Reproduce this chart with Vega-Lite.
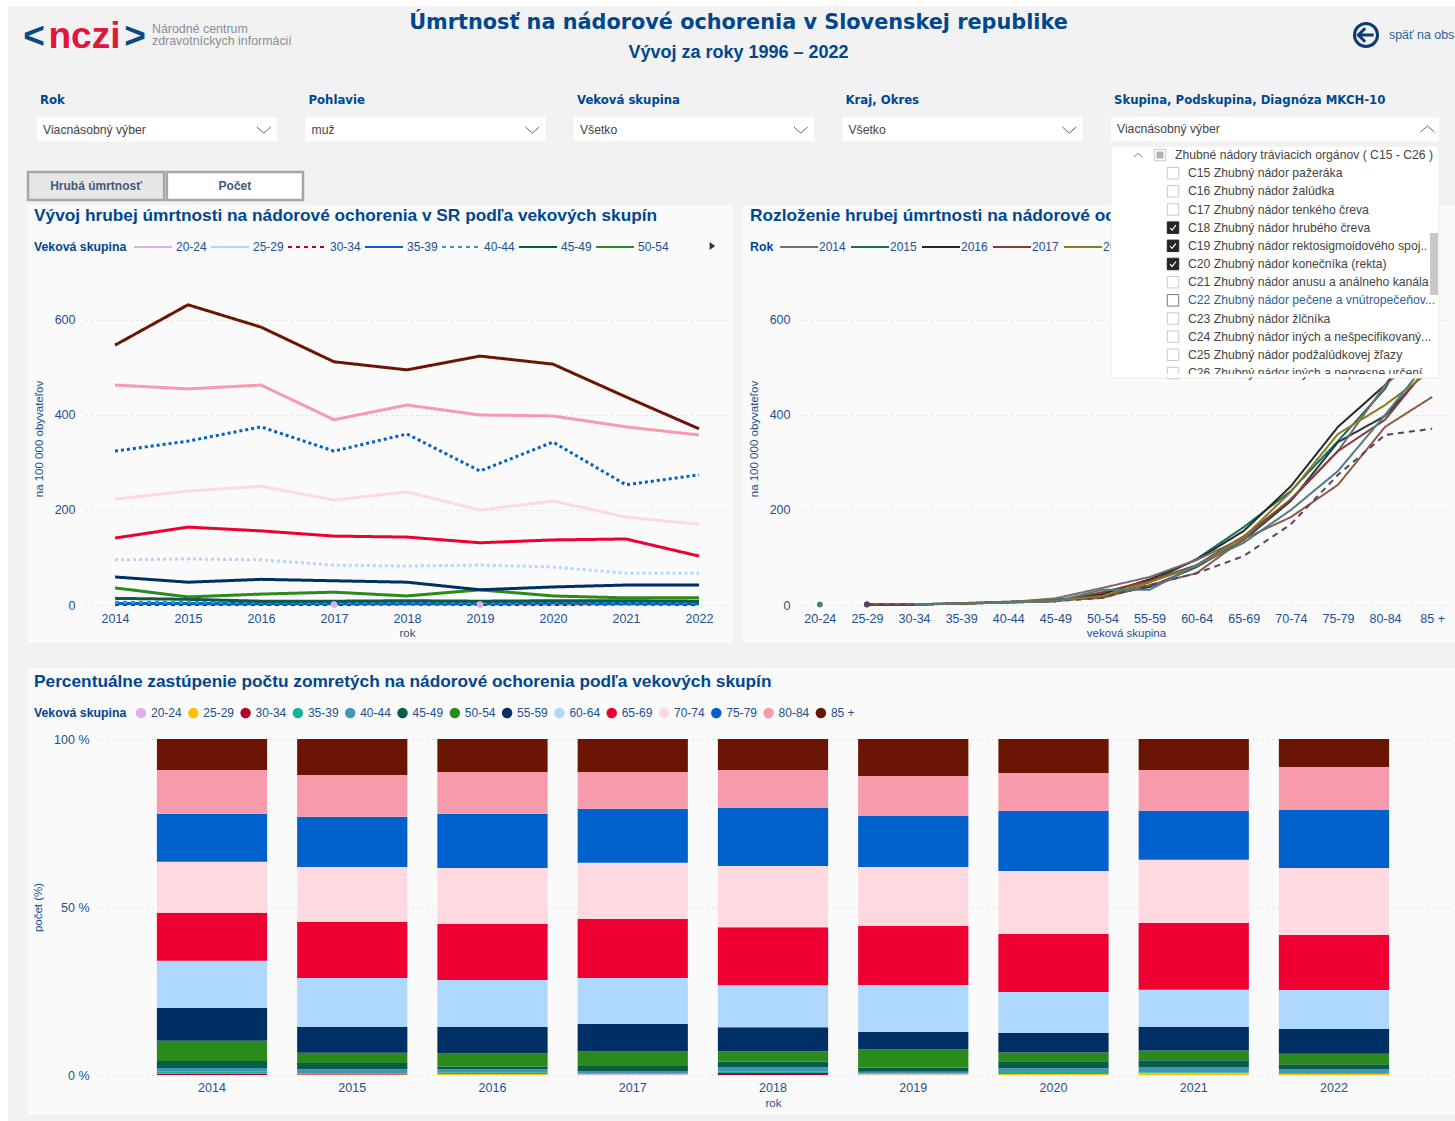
{"$schema":"https://vega.github.io/schema/vega-lite/v6.json","padding":0,"background":"#f2f2f2","bounds":"flush","spacing":0,
"resolve":{"scale":{"color":"independent","fill":"independent","stroke":"independent","strokeDash":"independent"},"legend":{"color":"independent","strokeDash":"independent"}},
"config":{"font":"Liberation Sans","view":{"stroke":null},"axis":{"domain":false,"ticks":false,"labelPadding":0,"labelFontSize":12.5,"labelColor":"#1d4f91","titleFontSize":11.5,"titleColor":"#1d4f91","titleFontWeight":"normal","gridColor":"#c8c8c8","gridDash":[1,4],"labelAngle":0},"legend":{"titleFontSize":12.3,"titleColor":"#00478f","titleFontWeight":"bold","labelFontSize":12,"labelColor":"#1d4f91"},"title":{"color":"#00478f"}},
"datasets":{
"rates":[
{"rok":"2017","vek":"20-24","v":0.9},{"rok":"2019","vek":"20-24","v":0.9},
{"rok":"2015","vek":"25-29","v":0.9},{"rok":"2016","vek":"25-29","v":0.9},{"rok":"2020","vek":"25-29","v":0.9},{"rok":"2021","vek":"25-29","v":2},{"rok":"2022","vek":"25-29","v":0.9},
{"rok":"2014","vek":"30-34","v":1},{"rok":"2015","vek":"30-34","v":1},{"rok":"2016","vek":"30-34","v":1},{"rok":"2017","vek":"30-34","v":1},{"rok":"2018","vek":"30-34","v":2},{"rok":"2019","vek":"30-34","v":1},{"rok":"2020","vek":"30-34","v":1},{"rok":"2021","vek":"30-34","v":2},{"rok":"2022","vek":"30-34","v":1},
{"rok":"2014","vek":"35-39","v":3},{"rok":"2015","vek":"35-39","v":3},{"rok":"2016","vek":"35-39","v":3},{"rok":"2017","vek":"35-39","v":3},{"rok":"2018","vek":"35-39","v":3},{"rok":"2019","vek":"35-39","v":3},{"rok":"2020","vek":"35-39","v":4},{"rok":"2021","vek":"35-39","v":3},{"rok":"2022","vek":"35-39","v":3},
{"rok":"2014","vek":"40-44","v":6},{"rok":"2015","vek":"40-44","v":6},{"rok":"2016","vek":"40-44","v":6},{"rok":"2017","vek":"40-44","v":5},{"rok":"2018","vek":"40-44","v":6},{"rok":"2019","vek":"40-44","v":5},{"rok":"2020","vek":"40-44","v":7},{"rok":"2021","vek":"40-44","v":6},{"rok":"2022","vek":"40-44","v":6},
{"rok":"2014","vek":"45-49","v":14},{"rok":"2015","vek":"45-49","v":12},{"rok":"2016","vek":"45-49","v":8},{"rok":"2017","vek":"45-49","v":8},{"rok":"2018","vek":"45-49","v":9},{"rok":"2019","vek":"45-49","v":8},{"rok":"2020","vek":"45-49","v":9},{"rok":"2021","vek":"45-49","v":9},{"rok":"2022","vek":"45-49","v":8},
{"rok":"2014","vek":"50-54","v":36},{"rok":"2015","vek":"50-54","v":17},{"rok":"2016","vek":"50-54","v":23},{"rok":"2017","vek":"50-54","v":27},{"rok":"2018","vek":"50-54","v":19},{"rok":"2019","vek":"50-54","v":32},{"rok":"2020","vek":"50-54","v":19},{"rok":"2021","vek":"50-54","v":15},{"rok":"2022","vek":"50-54","v":15},
{"rok":"2014","vek":"55-59","v":59},{"rok":"2015","vek":"55-59","v":48},{"rok":"2016","vek":"55-59","v":54},{"rok":"2017","vek":"55-59","v":51},{"rok":"2018","vek":"55-59","v":48},{"rok":"2019","vek":"55-59","v":32},{"rok":"2020","vek":"55-59","v":38},{"rok":"2021","vek":"55-59","v":42},{"rok":"2022","vek":"55-59","v":42},
{"rok":"2014","vek":"60-64","v":95},{"rok":"2015","vek":"60-64","v":97},{"rok":"2016","vek":"60-64","v":95},{"rok":"2017","vek":"60-64","v":84},{"rok":"2018","vek":"60-64","v":82},{"rok":"2019","vek":"60-64","v":84},{"rok":"2020","vek":"60-64","v":80},{"rok":"2021","vek":"60-64","v":67},{"rok":"2022","vek":"60-64","v":67},
{"rok":"2014","vek":"65-69","v":141},{"rok":"2015","vek":"65-69","v":164},{"rok":"2016","vek":"65-69","v":156},{"rok":"2017","vek":"65-69","v":145},{"rok":"2018","vek":"65-69","v":143},{"rok":"2019","vek":"65-69","v":131},{"rok":"2020","vek":"65-69","v":137},{"rok":"2021","vek":"65-69","v":139},{"rok":"2022","vek":"65-69","v":103},
{"rok":"2014","vek":"70-74","v":223},{"rok":"2015","vek":"70-74","v":240},{"rok":"2016","vek":"70-74","v":250},{"rok":"2017","vek":"70-74","v":221},{"rok":"2018","vek":"70-74","v":238},{"rok":"2019","vek":"70-74","v":200},{"rok":"2020","vek":"70-74","v":219},{"rok":"2021","vek":"70-74","v":185},{"rok":"2022","vek":"70-74","v":170},
{"rok":"2014","vek":"75-79","v":324},{"rok":"2015","vek":"75-79","v":345},{"rok":"2016","vek":"75-79","v":375},{"rok":"2017","vek":"75-79","v":324},{"rok":"2018","vek":"75-79","v":360},{"rok":"2019","vek":"75-79","v":282},{"rok":"2020","vek":"75-79","v":343},{"rok":"2021","vek":"75-79","v":253},{"rok":"2022","vek":"75-79","v":274},
{"rok":"2014","vek":"80-84","v":463},{"rok":"2015","vek":"80-84","v":455},{"rok":"2016","vek":"80-84","v":463},{"rok":"2017","vek":"80-84","v":390},{"rok":"2018","vek":"80-84","v":421},{"rok":"2019","vek":"80-84","v":400},{"rok":"2020","vek":"80-84","v":398},{"rok":"2021","vek":"80-84","v":375},{"rok":"2022","vek":"80-84","v":358},
{"rok":"2014","vek":"85 +","v":547},{"rok":"2015","vek":"85 +","v":632},{"rok":"2016","vek":"85 +","v":585},{"rok":"2017","vek":"85 +","v":512},{"rok":"2018","vek":"85 +","v":495},{"rok":"2019","vek":"85 +","v":524},{"rok":"2020","vek":"85 +","v":507},{"rok":"2021","vek":"85 +","v":438},{"rok":"2022","vek":"85 +","v":371}
],
"shares":[
{"rok":"2014","vek":"30-34","p":0.4},{"rok":"2014","vek":"35-39","p":0.7},{"rok":"2014","vek":"40-44","p":1.0},{"rok":"2014","vek":"45-49","p":2.1},{"rok":"2014","vek":"50-54","p":6.0},{"rok":"2014","vek":"55-59","p":9.8},{"rok":"2014","vek":"60-64","p":14.0},{"rok":"2014","vek":"65-69","p":14.3},{"rok":"2014","vek":"70-74","p":15.2},{"rok":"2014","vek":"75-79","p":14.3},{"rok":"2014","vek":"80-84","p":13.1},{"rok":"2014","vek":"85 +","p":9.2},
{"rok":"2015","vek":"25-29","p":0.15},{"rok":"2015","vek":"30-34","p":0.15},{"rok":"2015","vek":"35-39","p":0.2},{"rok":"2015","vek":"40-44","p":1.2},{"rok":"2015","vek":"45-49","p":1.9},{"rok":"2015","vek":"50-54","p":3.0},{"rok":"2015","vek":"55-59","p":7.7},{"rok":"2015","vek":"60-64","p":14.6},{"rok":"2015","vek":"65-69","p":16.7},{"rok":"2015","vek":"70-74","p":16.4},{"rok":"2015","vek":"75-79","p":14.9},{"rok":"2015","vek":"80-84","p":12.5},{"rok":"2015","vek":"85 +","p":10.7},
{"rok":"2016","vek":"25-29","p":0.3},{"rok":"2016","vek":"35-39","p":0.5},{"rok":"2016","vek":"40-44","p":0.9},{"rok":"2016","vek":"45-49","p":0.8},{"rok":"2016","vek":"50-54","p":3.9},{"rok":"2016","vek":"55-59","p":7.9},{"rok":"2016","vek":"60-64","p":14.0},{"rok":"2016","vek":"65-69","p":16.7},{"rok":"2016","vek":"70-74","p":16.7},{"rok":"2016","vek":"75-79","p":16.1},{"rok":"2016","vek":"80-84","p":12.5},{"rok":"2016","vek":"85 +","p":9.8},
{"rok":"2017","vek":"20-24","p":0.3},{"rok":"2017","vek":"35-39","p":0.2},{"rok":"2017","vek":"40-44","p":0.7},{"rok":"2017","vek":"45-49","p":1.5},{"rok":"2017","vek":"50-54","p":4.3},{"rok":"2017","vek":"55-59","p":8.2},{"rok":"2017","vek":"60-64","p":13.7},{"rok":"2017","vek":"65-69","p":17.6},{"rok":"2017","vek":"70-74","p":16.7},{"rok":"2017","vek":"75-79","p":16.1},{"rok":"2017","vek":"80-84","p":11.0},{"rok":"2017","vek":"85 +","p":9.8},
{"rok":"2018","vek":"30-34","p":0.6},{"rok":"2018","vek":"35-39","p":0.5},{"rok":"2018","vek":"40-44","p":1.3},{"rok":"2018","vek":"45-49","p":1.6},{"rok":"2018","vek":"50-54","p":3.1},{"rok":"2018","vek":"55-59","p":7.1},{"rok":"2018","vek":"60-64","p":12.5},{"rok":"2018","vek":"65-69","p":17.3},{"rok":"2018","vek":"70-74","p":18.2},{"rok":"2018","vek":"75-79","p":17.3},{"rok":"2018","vek":"80-84","p":11.3},{"rok":"2018","vek":"85 +","p":9.2},
{"rok":"2019","vek":"20-24","p":0.2},{"rok":"2019","vek":"25-29","p":0.2},{"rok":"2019","vek":"35-39","p":0.2},{"rok":"2019","vek":"40-44","p":0.4},{"rok":"2019","vek":"45-49","p":1.2},{"rok":"2019","vek":"50-54","p":5.5},{"rok":"2019","vek":"55-59","p":5.1},{"rok":"2019","vek":"60-64","p":14.0},{"rok":"2019","vek":"65-69","p":17.6},{"rok":"2019","vek":"70-74","p":17.6},{"rok":"2019","vek":"75-79","p":15.2},{"rok":"2019","vek":"80-84","p":11.9},{"rok":"2019","vek":"85 +","p":11.0},
{"rok":"2020","vek":"25-29","p":0.3},{"rok":"2020","vek":"35-39","p":0.9},{"rok":"2020","vek":"40-44","p":0.8},{"rok":"2020","vek":"45-49","p":2.1},{"rok":"2020","vek":"50-54","p":2.6},{"rok":"2020","vek":"55-59","p":5.8},{"rok":"2020","vek":"60-64","p":12.2},{"rok":"2020","vek":"65-69","p":17.3},{"rok":"2020","vek":"70-74","p":18.8},{"rok":"2020","vek":"75-79","p":17.9},{"rok":"2020","vek":"80-84","p":11.3},{"rok":"2020","vek":"85 +","p":10.1},
{"rok":"2021","vek":"25-29","p":0.7},{"rok":"2021","vek":"35-39","p":0.2},{"rok":"2021","vek":"40-44","p":1.3},{"rok":"2021","vek":"45-49","p":2.2},{"rok":"2021","vek":"50-54","p":2.9},{"rok":"2021","vek":"55-59","p":7.1},{"rok":"2021","vek":"60-64","p":11.0},{"rok":"2021","vek":"65-69","p":19.9},{"rok":"2021","vek":"70-74","p":18.8},{"rok":"2021","vek":"75-79","p":14.6},{"rok":"2021","vek":"80-84","p":12.2},{"rok":"2021","vek":"85 +","p":9.2},
{"rok":"2022","vek":"25-29","p":0.3},{"rok":"2022","vek":"35-39","p":0.1},{"rok":"2022","vek":"40-44","p":1.3},{"rok":"2022","vek":"45-49","p":1.5},{"rok":"2022","vek":"50-54","p":3.1},{"rok":"2022","vek":"55-59","p":7.4},{"rok":"2022","vek":"60-64","p":11.6},{"rok":"2022","vek":"65-69","p":16.4},{"rok":"2022","vek":"70-74","p":19.9},{"rok":"2022","vek":"75-79","p":17.3},{"rok":"2022","vek":"80-84","p":12.8},{"rok":"2022","vek":"85 +","p":8.3}
],
"filters":[{"filter":"Rok","value":"Viacnásobný výber"},{"filter":"Pohlavie","value":"muž"},{"filter":"Veková skupina","value":"Všetko"},{"filter":"Kraj, Okres","value":"Všetko"},{"filter":"Skupina, Podskupina, Diagnóza MKCH-10","value":"Viacnásobný výber"}],
"buttons":[{"b":"Hrubá úmrtnosť"},{"b":"Počet"}],
"one":[{"part":"block"}],
"titles":[{"panel":"left","text":"Vývoj hrubej úmrtnosti na nádorové ochorenia v SR podľa vekových skupín"},{"panel":"right","text":"Rozloženie hrubej úmrtnosti na nádorové ochorenia v SR podľa rokov"}],
"items":[
{"code":"G","level":"group","state":"partial","text":"Zhubné nádory tráviacich orgánov ( C15 - C26 )"},
{"code":"C15","level":"child","state":"off","text":"C15 Zhubný nádor pažeráka"},
{"code":"C16","level":"child","state":"off","text":"C16 Zhubný nádor žalúdka"},
{"code":"C17","level":"child","state":"off","text":"C17 Zhubný nádor tenkého čreva"},
{"code":"C18","level":"child","state":"on","text":"C18 Zhubný nádor hrubého čreva"},
{"code":"C19","level":"child","state":"on","text":"C19 Zhubný nádor rektosigmoidového spoj.."},
{"code":"C20","level":"child","state":"on","text":"C20 Zhubný nádor konečníka (rekta)"},
{"code":"C21","level":"child","state":"off","text":"C21 Zhubný nádor anusu a análneho kanála"},
{"code":"C22","level":"child","state":"hover","text":"C22 Zhubný nádor pečene a vnútropečeňov..."},
{"code":"C23","level":"child","state":"off","text":"C23 Zhubný nádor žlčníka"},
{"code":"C24","level":"child","state":"off","text":"C24 Zhubný nádor iných a nešpecifikovaný..."},
{"code":"C25","level":"child","state":"off","text":"C25 Zhubný nádor podžalúdkovej žľazy"},
{"code":"C26","level":"child","state":"off","text":"C26 Zhubný nádor iných a nepresne určení..."}
]
},
"vconcat":[
{"width":1455,"height":205,
"title":{"text":"Úmrtnosť na nádorové ochorenia v Slovenskej republike","subtitle":"Vývoj za roky 1996 – 2022","anchor":"middle","frame":"group","orient":"top","baseline":"top","dx":11,"offset":-63,"font":"DejaVu Sans","fontSize":20.8,"fontWeight":"bold","color":"#00478f","subtitleFont":"Liberation Sans","subtitleFontSize":18,"subtitleFontWeight":"bold","subtitleColor":"#00478f","subtitlePadding":10},
"resolve":{"scale":{"x":"independent","y":"independent","color":"independent","fill":"independent"}},
"layer":[
{"data":{"name":"one"},"mark":{"type":"rect","fill":"white"},"encoding":{"x":{"datum":"edge","type":"nominal","axis":null,"scale":{"type":"band","padding":0,"range":[0,8]}},"y":{"datum":"edge","type":"nominal","axis":null,"scale":{"type":"band","padding":0,"range":[0,205]}}}},
{"data":{"name":"one"},"mark":{"type":"rect","fill":"white"},"encoding":{"x":{"datum":"edge","type":"nominal","axis":null,"scale":{"type":"band","padding":0,"range":[0,1455]}},"y":{"datum":"edge","type":"nominal","axis":null,"scale":{"type":"band","padding":0,"range":[0,6]}}}},
{"data":{"values":[{"piece":"<"},{"piece":"nczi"},{"piece":">"}]},"mark":{"type":"text","fontSize":37,"fontWeight":"bold"},"encoding":{"x":{"field":"piece","type":"nominal","sort":null,"axis":null,"scale":{"type":"point","padding":0,"range":[34,135]}},"y":{"datum":"logo","type":"nominal","axis":null,"scale":{"type":"point","padding":0,"range":[37,37]}},"text":{"field":"piece"},"color":{"field":"piece","type":"nominal","legend":null,"scale":{"domain":["<","nczi",">"],"range":["#0c4a85","#e0173c","#0c4a85"]}}}},
{"data":{"values":[{"slot":"brand","row":"a","text":"Národné centrum"},{"slot":"brand","row":"c","text":"zdravotníckych informácií"},{"slot":"back","row":"b","text":"späť na obsah"}]},"mark":{"type":"text","align":"left","fontSize":12.4},"encoding":{"x":{"field":"slot","type":"nominal","axis":null,"scale":{"type":"point","padding":0,"domain":["brand","back"],"range":[152,1389]}},"y":{"field":"row","type":"nominal","axis":null,"scale":{"type":"point","padding":0,"domain":["a","b","c"],"range":[29,41]}},"text":{"field":"text"},"color":{"field":"slot","type":"nominal","legend":null,"scale":{"domain":["brand","back"],"range":["#8a8f94","#2a62a0"]}}}},
{"data":{"values":[{"icon":"ring"}]},"mark":{"type":"point","shape":"circle","size":531,"strokeWidth":3,"stroke":"#0c3c73","opacity":1},"encoding":{"x":{"datum":"back","type":"nominal","axis":null,"scale":{"type":"point","padding":0,"range":[1366,1366]}},"y":{"datum":"back","type":"nominal","axis":null,"scale":{"type":"point","padding":0,"range":[35,35]}}}},
{"data":{"values":[{"icon":"arrow"}]},"mark":{"type":"point","shape":"M-0.9,0L0.9,0M-0.1,-0.8L-0.9,0L-0.1,0.8","size":290,"strokeWidth":3,"stroke":"#0c3c73","opacity":1},"encoding":{"x":{"datum":"back","type":"nominal","axis":null,"scale":{"type":"point","padding":0,"range":[1366,1366]}},"y":{"datum":"back","type":"nominal","axis":null,"scale":{"type":"point","padding":0,"range":[35,35]}}}},
{"data":{"name":"filters"},"mark":{"type":"rect","fill":"white"},"encoding":{"x":{"field":"filter","type":"nominal","sort":null,"axis":null,"scale":{"type":"band","paddingInner":0.106,"paddingOuter":0,"range":[37,1351]}},"y":{"datum":"box","type":"nominal","axis":null,"scale":{"type":"band","padding":0,"range":[117,141]}}}},
{"data":{"name":"filters"},"mark":{"type":"text","align":"left","font":"DejaVu Sans","fontSize":11.7,"fontWeight":"bold","color":"#00478f","dx":3},"encoding":{"x":{"field":"filter","type":"nominal","sort":null,"bandPosition":0,"axis":null,"scale":{"type":"band","paddingInner":0.106,"paddingOuter":0,"range":[37,1351]}},"y":{"datum":"label","type":"nominal","axis":null,"scale":{"type":"point","padding":0,"range":[100,100]}},"text":{"field":"filter"}}},
{"data":{"name":"filters"},"mark":{"type":"text","align":"left","fontSize":12.2,"color":"#444444","dx":6},"encoding":{"x":{"field":"filter","type":"nominal","sort":null,"bandPosition":0,"axis":null,"scale":{"type":"band","paddingInner":0.106,"paddingOuter":0,"range":[37,1351]}},"y":{"datum":"value","type":"nominal","axis":null,"scale":{"type":"point","padding":0,"range":[130,130]}},"text":{"field":"value"}}},
{"data":{"name":"filters"},"mark":{"type":"point","shape":"M-1,-0.45L0,0.45L1,-0.45","size":196,"stroke":"#666666","strokeWidth":1,"opacity":1},"encoding":{"x":{"field":"filter","type":"nominal","sort":null,"bandPosition":0.945,"axis":null,"scale":{"type":"band","paddingInner":0.106,"paddingOuter":0,"range":[37,1351]}},"y":{"datum":"value","type":"nominal","axis":null,"scale":{"type":"point","padding":0,"range":[130,130]}}}},
{"data":{"name":"buttons"},"mark":{"type":"rect","stroke":"#a6a6a6","strokeWidth":2.5},"encoding":{"x":{"field":"b","type":"nominal","sort":null,"axis":null,"scale":{"type":"band","paddingInner":0.02,"paddingOuter":0,"range":[28,303]}},"y":{"datum":"btn","type":"nominal","axis":null,"scale":{"type":"band","padding":0,"range":[172,200]}},"fill":{"field":"b","type":"nominal","legend":null,"scale":{"domain":["Hrubá úmrtnosť","Počet"],"range":["#e6e6e6","#ffffff"]}}}},
{"data":{"name":"buttons"},"mark":{"type":"text","fontSize":12,"fontWeight":"bold","color":"#3d5a7a"},"encoding":{"x":{"field":"b","type":"nominal","sort":null,"axis":null,"scale":{"type":"band","paddingInner":0.02,"paddingOuter":0,"range":[28,303]}},"y":{"datum":"btn","type":"nominal","axis":null,"scale":{"type":"band","padding":0,"range":[172,200]}},"text":{"field":"b"}}}
]},
{"width":1455,"height":438,"view":{"fill":"#fafafa"},
"resolve":{"scale":{"x":"independent","y":"independent","color":"independent","strokeDash":"independent"},"axis":{"x":"independent","y":"independent"},"legend":{"color":"independent","strokeDash":"independent"}},
"layer":[
{"data":{"name":"one"},"mark":{"type":"rect","fill":"white"},"encoding":{"x":{"datum":"edge","type":"nominal","axis":null,"scale":{"type":"band","padding":0,"range":[0,8]}},"y":{"datum":"edge","type":"nominal","axis":null,"scale":{"type":"band","padding":0,"range":[0,438]}}}},
{"data":{"name":"one"},"mark":{"type":"rect","fill":"#f2f2f2"},"encoding":{"x":{"datum":"gap","type":"nominal","axis":null,"scale":{"type":"band","padding":0,"range":[8,28]}},"y":{"datum":"gap","type":"nominal","axis":null,"scale":{"type":"band","padding":0,"range":[0,438]}}}},
{"data":{"name":"one"},"mark":{"type":"rect","fill":"#f2f2f2"},"encoding":{"x":{"datum":"gap","type":"nominal","axis":null,"scale":{"type":"band","padding":0,"range":[733,743]}},"y":{"datum":"gap","type":"nominal","axis":null,"scale":{"type":"band","padding":0,"range":[0,438]}}}},
{"data":{"name":"titles"},"mark":{"type":"text","align":"left","fontSize":17.3,"fontWeight":"bold","color":"#00478f"},"encoding":{"x":{"field":"panel","type":"nominal","axis":null,"scale":{"type":"point","padding":0,"domain":["left","right"],"range":[34,750]}},"y":{"datum":"title","type":"nominal","axis":null,"scale":{"type":"point","padding":0,"range":[11,11]}},"text":{"field":"text"}}},
{"data":{"name":"rates"},"layer":[
{"transform":[{"filter":"datum.vek != '20-24'"}],"mark":{"type":"line","strokeWidth":3},"encoding":{
"x":{"field":"rok","type":"ordinal","title":"rok","scale":{"type":"point","padding":0.3977,"range":[86,728]},"axis":{"orient":"bottom","offset":-31,"titlePadding":3}},
"y":{"field":"v","type":"quantitative","title":"na 100 000 obyvateľov","scale":{"domain":[0,701],"nice":false,"range":[400,67]},"axis":{"orient":"left","grid":true,"values":[0,200,400,600],"offset":-75,"titlePadding":10}},
"color":{"field":"vek","type":"nominal","title":"Veková skupina","scale":{"domain":["20-24","25-29","30-34","35-39","40-44","45-49","50-54","55-59","60-64","65-69","70-74","75-79","80-84","85 +"],"range":["#d9b3e6","#aed8ff","#b3002d","#0060cc","#3e98b5","#0a5c4a","#2a8a1c","#002f66","#aed8ff","#ee0033","#ffd9e0","#0060cc","#f79aac","#6b1505"]},"legend":{"orient":"none","legendX":34,"legendY":22,"direction":"horizontal","titleOrient":"left","titlePadding":6,"titleBaseline":"line-top","titleLineHeight":14,"columns":7,"symbolType":"stroke","symbolSize":1444,"symbolStrokeWidth":2,"labelOffset":3,"columnPadding":0,"values":["20-24","25-29","30-34","35-39","40-44","45-49","50-54"]}},
"strokeDash":{"field":"vek","type":"nominal","title":"Veková skupina","scale":{"domain":["20-24","25-29","30-34","35-39","40-44","45-49","50-54","55-59","60-64","65-69","70-74","75-79","80-84","85 +"],"range":[[1,0],[1,0],[4,4],[1,0],[4,4],[1,0],[1,0],[1,0],[3,3],[1,0],[1,0],[3,3],[1,0],[1,0]]},"legend":{"orient":"none","legendX":34,"legendY":22,"direction":"horizontal","titleOrient":"left","titlePadding":6,"titleBaseline":"line-top","titleLineHeight":14,"columns":7,"symbolType":"stroke","symbolSize":1444,"symbolStrokeWidth":2,"labelOffset":3,"columnPadding":0,"values":["20-24","25-29","30-34","35-39","40-44","45-49","50-54"]}}
}},
{"transform":[{"filter":"datum.vek == '20-24'"}],"mark":{"type":"point","filled":true,"size":45,"opacity":1},"encoding":{"x":{"field":"rok","type":"ordinal"},"y":{"field":"v","type":"quantitative"},"color":{"field":"vek","type":"nominal","legend":null}}}
]},
{"data":{"name":"rates"},"layer":[
{"transform":[{"filter":"datum.vek != '20-24'"}],"mark":{"type":"line","strokeWidth":2},"encoding":{
"x":{"field":"vek","type":"ordinal","title":"veková skupina","scale":{"type":"point","padding":0.4,"range":[801,1451],"domain":["20-24","25-29","30-34","35-39","40-44","45-49","50-54","55-59","60-64","65-69","70-74","75-79","80-84","85 +"]},"axis":{"orient":"bottom","offset":-31,"titlePadding":3}},
"y":{"field":"v","type":"quantitative","title":"na 100 000 obyvateľov","scale":{"domain":[0,701],"nice":false,"range":[400,67]},"axis":{"orient":"left","grid":true,"values":[0,200,400,600],"offset":-790,"titlePadding":10}},
"color":{"field":"rok","type":"nominal","title":"Rok","scale":{"domain":["2014","2015","2016","2017","2018","2019","2020","2021","2022"],"range":["#7b6a6a","#1d6b5c","#222a2a","#8c3b3b","#8a7a1e","#4f7c85","#1f3b3b","#8f5b45","#5b3f66"]},"legend":{"orient":"none","legendX":750,"legendY":22,"direction":"horizontal","titleOrient":"left","titlePadding":5,"titleBaseline":"line-top","titleLineHeight":14,"columns":5,"symbolType":"stroke","symbolSize":1444,"symbolStrokeWidth":2,"labelOffset":0,"columnPadding":1,"values":["2014","2015","2016","2017","2018"]}},
"strokeDash":{"field":"rok","type":"nominal","title":"Rok","scale":{"domain":["2014","2015","2016","2017","2018","2019","2020","2021","2022"],"range":[[1,0],[1,0],[1,0],[1,0],[1,0],[1,0],[1,0],[1,0],[6,5]]},"legend":{"orient":"none","legendX":750,"legendY":22,"direction":"horizontal","titleOrient":"left","titlePadding":5,"titleBaseline":"line-top","titleLineHeight":14,"columns":5,"symbolType":"stroke","symbolSize":1444,"symbolStrokeWidth":2,"labelOffset":0,"columnPadding":1,"values":["2014","2015","2016","2017","2018"]}}
}},
{"transform":[{"filter":"datum.vek == '20-24' || datum.vek == '25-29'"}],"mark":{"type":"point","filled":true,"size":30,"opacity":1},"encoding":{"x":{"field":"vek","type":"ordinal"},"y":{"field":"v","type":"quantitative"},"color":{"field":"rok","type":"nominal","legend":null}}}
]}
]},
{"width":1455,"height":472,"view":{"fill":"#fafafa"},
"resolve":{"scale":{"x":"independent","y":"independent"},"axis":{"x":"independent","y":"independent"}},
"layer":[
{"data":{"name":"one"},"mark":{"type":"rect","fill":"#f2f2f2"},"encoding":{"x":{"datum":"gap","type":"nominal","axis":null,"scale":{"type":"band","padding":0,"range":[0,1455]}},"y":{"datum":"gap","type":"nominal","axis":null,"scale":{"type":"band","padding":0,"range":[0,25]}}}},
{"data":{"name":"one"},"mark":{"type":"rect","fill":"#f2f2f2"},"encoding":{"x":{"datum":"gap","type":"nominal","axis":null,"scale":{"type":"band","padding":0,"range":[8,28]}},"y":{"datum":"gap","type":"nominal","axis":null,"scale":{"type":"band","padding":0,"range":[0,472]}}}},
{"data":{"name":"one"},"mark":{"type":"rect","fill":"white"},"encoding":{"x":{"datum":"edge","type":"nominal","axis":null,"scale":{"type":"band","padding":0,"range":[0,8]}},"y":{"datum":"edge","type":"nominal","axis":null,"scale":{"type":"band","padding":0,"range":[0,472]}}}},
{"data":{"values":[{"text":"Percentuálne zastúpenie počtu zomretých na nádorové ochorenia  podľa vekových skupín"}]},"mark":{"type":"text","align":"left","fontSize":17.3,"fontWeight":"bold","color":"#00478f"},"encoding":{"x":{"datum":"panel","type":"nominal","axis":null,"scale":{"type":"point","padding":0,"range":[34,34]}},"y":{"datum":"title","type":"nominal","axis":null,"scale":{"type":"point","padding":0,"range":[39,39]}},"text":{"field":"text"}}},
{"data":{"name":"shares"},"mark":{"type":"bar"},"encoding":{
"x":{"field":"rok","type":"ordinal","title":"rok","scale":{"type":"band","paddingInner":0.214,"paddingOuter":0.427,"range":[97,1449]},"axis":{"orient":"bottom","offset":-34,"titlePadding":4}},
"y":{"field":"p","type":"quantitative","stack":"normalize","title":"počet (%)","scale":{"domain":[0,1],"nice":false,"range":[432,96]},"axis":{"orient":"left","grid":true,"values":[0,0.5,1],"labelExpr":"datum.value*100 + ' %'","offset":-89,"titlePadding":10}},
"color":{"field":"vek","type":"nominal","title":"Veková skupina","scale":{"domain":["20-24","25-29","30-34","35-39","40-44","45-49","50-54","55-59","60-64","65-69","70-74","75-79","80-84","85 +"],"range":["#d9b3e6","#ffc000","#b3002d","#14b39a","#3e98b5","#0a5c4a","#2a8a1c","#002f66","#aed8ff","#ee0033","#ffd9e0","#0060cc","#f79aac","#6b1505"]},"legend":{"orient":"none","legendX":34,"legendY":64,"direction":"horizontal","titleOrient":"left","titlePadding":8,"columns":14,"symbolType":"circle","symbolSize":110,"labelOffset":4,"columnPadding":5.3}},
"order":{"field":"vek","sort":"ascending"}
}}
]},
{"width":1455,"height":6,
"resolve":{"scale":{"x":"independent","y":"independent","color":"independent","fill":"independent","stroke":"independent"}},
"data":{"name":"items"},
"layer":[
{"data":{"name":"one"},"mark":{"type":"rect","fill":"white"},"encoding":{"x":{"datum":"edge","type":"nominal","axis":null,"scale":{"type":"band","padding":0,"range":[0,8]}},"y":{"datum":"edge","type":"nominal","axis":null,"scale":{"type":"band","padding":0,"range":[0,6]}}}},
{"data":{"name":"one"},"mark":{"type":"rect","fill":"white"},"encoding":{"x":{"datum":"slicer","type":"nominal","axis":null,"scale":{"type":"band","padding":0,"range":[1111,1439]}},"y":{"datum":"head","type":"nominal","axis":null,"scale":{"type":"band","padding":0,"range":[-998,-974]}}}},
{"data":{"name":"one"},"mark":{"type":"rect","fill":"white","stroke":"#ececec"},"encoding":{"x":{"datum":"slicer","type":"nominal","axis":null,"scale":{"type":"band","padding":0,"range":[1111,1439]}},"y":{"datum":"list","type":"nominal","axis":null,"scale":{"type":"band","padding":0,"range":[-969,-737]}}}},
{"data":{"values":[{"value":"Viacnásobný výber"}]},"mark":{"type":"text","align":"left","fontSize":12.2,"color":"#444444","dx":6},"encoding":{"x":{"datum":"slicer","type":"nominal","bandPosition":0,"axis":null,"scale":{"type":"band","padding":0,"range":[1111,1439]}},"y":{"datum":"head","type":"nominal","axis":null,"scale":{"type":"band","padding":0,"range":[-998,-974]}},"text":{"field":"value"}}},
{"data":{"name":"one"},"mark":{"type":"point","shape":"M-1,0.45L0,-0.45L1,0.45","size":196,"stroke":"#666666","strokeWidth":1,"opacity":1},"encoding":{"x":{"datum":"slicer","type":"nominal","bandPosition":0.965,"axis":null,"scale":{"type":"band","padding":0,"range":[1111,1439]}},"y":{"datum":"head","type":"nominal","axis":null,"scale":{"type":"band","padding":0,"range":[-998,-974]}}}},
{"mark":{"type":"text","align":"left","fontSize":12.2,"dx":15},"encoding":{"x":{"field":"level","type":"nominal","axis":null,"scale":{"type":"point","padding":0,"domain":["group","child"],"range":[1160,1173]}},"y":{"field":"code","type":"nominal","sort":null,"axis":null,"scale":{"type":"point","padding":0,"range":[-960,-742]}},"text":{"field":"text"},"color":{"field":"state","type":"nominal","legend":null,"scale":{"domain":["off","on","partial","hover"],"range":["#444444","#444444","#444444","#2a62a0"]}}}},
{"mark":{"type":"point","shape":"square","size":132,"filled":true,"strokeWidth":1,"opacity":1},"encoding":{"x":{"field":"level","type":"nominal","axis":null,"scale":{"type":"point","padding":0,"domain":["group","child"],"range":[1160,1173]}},"y":{"field":"code","type":"nominal","sort":null,"axis":null,"scale":{"type":"point","padding":0,"range":[-960,-742]}},"fill":{"field":"state","type":"nominal","legend":null,"scale":{"domain":["off","on","partial","hover"],"range":["#ffffff","#252423","#ffffff","#ffffff"]}},"stroke":{"field":"state","type":"nominal","legend":null,"scale":{"domain":["off","on","partial","hover"],"range":["#c8c8c8","#252423","#c8c8c8","#777777"]}}}},
{"transform":[{"filter":"datum.state == 'on'"}],"mark":{"type":"point","shape":"M-0.7,0.05L-0.2,0.6L0.7,-0.6","size":70,"stroke":"white","strokeWidth":1.2,"opacity":1},"encoding":{"x":{"datum":"child","type":"nominal","axis":null,"scale":{"type":"point","padding":0,"domain":["group","child"],"range":[1160,1173]}},"y":{"field":"code","type":"nominal","axis":null,"scale":{"type":"point","padding":0,"domain":["G","C15","C16","C17","C18","C19","C20","C21","C22","C23","C24","C25","C26"],"range":[-960,-742]}}}},
{"transform":[{"filter":"datum.state == 'partial'"}],"mark":{"type":"point","shape":"square","size":49,"filled":true,"color":"#b0b0b0","opacity":1},"encoding":{"x":{"datum":"group","type":"nominal","axis":null,"scale":{"type":"point","padding":0,"domain":["group","child"],"range":[1160,1173]}},"y":{"field":"code","type":"nominal","axis":null,"scale":{"type":"point","padding":0,"domain":["G","C15","C16","C17","C18","C19","C20","C21","C22","C23","C24","C25","C26"],"range":[-960,-742]}}}},
{"transform":[{"filter":"datum.state == 'partial'"}],"mark":{"type":"point","shape":"M-1,0.45L0,-0.45L1,0.45","size":64,"stroke":"#888888","strokeWidth":1,"opacity":1},"encoding":{"x":{"datum":"expander","type":"nominal","axis":null,"scale":{"type":"point","padding":0,"range":[1138,1138]}},"y":{"field":"code","type":"nominal","axis":null,"scale":{"type":"point","padding":0,"domain":["G","C15","C16","C17","C18","C19","C20","C21","C22","C23","C24","C25","C26"],"range":[-960,-742]}}}},
{"data":{"name":"one"},"mark":{"type":"rect","fill":"white"},"encoding":{"x":{"datum":"slicer","type":"nominal","axis":null,"scale":{"type":"band","padding":0,"range":[1112,1438]}},"y":{"datum":"end","type":"nominal","axis":null,"scale":{"type":"band","padding":0,"range":[-741,-738]}}}},
{"data":{"name":"one"},"mark":{"type":"rect","fill":"#c8c8c8"},"encoding":{"x":{"datum":"scroll","type":"nominal","axis":null,"scale":{"type":"band","padding":0,"range":[1430,1438]}},"y":{"datum":"scroll","type":"nominal","axis":null,"scale":{"type":"band","padding":0,"range":[-882,-820]}}}},
{"data":{"name":"one"},"mark":{"type":"point","shape":"M-0.6,-1L0.8,0L-0.6,1Z","size":64,"filled":true,"color":"#333333","opacity":1},"encoding":{"x":{"datum":"pager","type":"nominal","axis":null,"scale":{"type":"band","padding":0,"range":[708,716]}},"y":{"datum":"pager","type":"nominal","axis":null,"scale":{"type":"band","padding":0,"range":[-873,-865]}}}}
]}
]}
